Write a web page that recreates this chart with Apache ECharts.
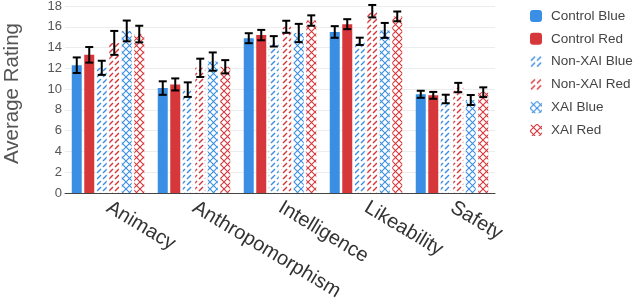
<!DOCTYPE html>
<html><head><meta charset="utf-8">
<script src="https://cdn.jsdelivr.net/npm/echarts@6/dist/echarts.min.js"></script>
<style>html,body{margin:0;padding:0;background:#fff}#c{width:640px;height:301px}</style>
</head><body><div id="c"></div>
<script>
var categories = ['Animacy','Anthropomorphism','Intelligence','Likeability','Safety'];
var seriesNames = ['Control Blue','Control Red','Non-XAI Blue','Non-XAI Red','XAI Blue','XAI Red'];
var controlBlue = [12.3, 10.1, 14.9, 15.5, 9.5];
var controlRed  = [13.3, 10.45, 15.2, 16.25, 9.4];
var nonXaiBlue  = [12.05, 9.95, 14.6, 14.6, 9.05];
var nonXaiRed   = [14.45, 12.05, 16.0, 17.5, 10.15];
var xaiBlue     = [15.6, 12.65, 15.4, 15.65, 8.95];
var xaiRed      = [15.3, 12.15, 16.6, 17.0, 9.7];
var errControlBlue = [0.75, 0.65, 0.48, 0.56, 0.34];
var errControlRed  = [0.75, 0.58, 0.5, 0.48, 0.33];
var errNonXaiBlue  = [0.68, 0.7, 0.5, 0.35, 0.41];
var errNonXaiRed   = [1.15, 0.88, 0.58, 0.6, 0.45];
var errXaiBlue     = [1.0, 0.88, 0.88, 0.72, 0.48];
var errXaiRed      = [0.8, 0.64, 0.5, 0.47, 0.47];

var values = [controlBlue, controlRed, nonXaiBlue, nonXaiRed, xaiBlue, xaiRed];
var errors = [errControlBlue, errControlRed, errNonXaiBlue, errNonXaiRed, errXaiBlue, errXaiRed];

var BLUE = '#3a8ee3', RED = '#d6373b';
var FONT = 'Liberation Sans, Arial, sans-serif';

function stripe(color){
  var c = document.createElement('canvas'); c.width = 6; c.height = 6;
  var g = c.getContext('2d');
  g.fillStyle = '#fff'; g.fillRect(0,0,6,6);
  g.strokeStyle = color; g.lineWidth = 1.4;
  g.beginPath(); g.moveTo(1,5); g.lineTo(5,1); g.stroke();
  return {image: c, repeat: 'repeat'};
}
function cross(color){
  var c = document.createElement('canvas'); c.width = 7; c.height = 7;
  var g = c.getContext('2d');
  g.fillStyle = '#fff'; g.fillRect(0,0,7,7);
  g.strokeStyle = color; g.lineWidth = 1.1;
  g.beginPath(); g.moveTo(0,0); g.lineTo(7,7); g.moveTo(7,0); g.lineTo(0,7); g.stroke();
  return {image: c, repeat: 'repeat'};
}
var fills = [BLUE, RED, stripe(BLUE), stripe(RED), cross(BLUE), cross(RED)];

var BW = 10, GAP = 2.5;
var series = [];
values.forEach(function(v, i){
  series.push({
    name: seriesNames[i], type: 'bar', data: v, barWidth: BW, barGap: '25%',
    itemStyle: {color: fills[i], borderRadius: 0}, z: 2
  });
});
values.forEach(function(v, i){
  var data = v.map(function(val, k){ return [k, val - errors[i][k], val + errors[i][k]]; });
  series.push({
    type: 'custom', name: seriesNames[i] + ' err', data: data, z: 5,
    renderItem: function(params, api){
      var k = api.value(0);
      var lo = api.coord([k, api.value(1)]);
      var hi = api.coord([k, api.value(2)]);
      var x = lo[0] + (i - 2.5) * (BW + GAP);
      var cap = 4;
      var st = {stroke: '#000', lineWidth: 2};
      return {type: 'group', children: [
        {type: 'line', shape: {x1: x, y1: lo[1], x2: x, y2: hi[1]}, style: st},
        {type: 'line', shape: {x1: x - cap, y1: lo[1], x2: x + cap, y2: lo[1]}, style: st},
        {type: 'line', shape: {x1: x - cap, y1: hi[1], x2: x + cap, y2: hi[1]}, style: st}
      ]};
    }
  });
});

var chart = echarts.init(document.getElementById('c'));
chart.setOption({
  animation: false,
  backgroundColor: '#fff',
  grid: {left: 65, right: 145, top: 6, bottom: 108, containLabel: false, outerBoundsMode: 'none'},
  legend: {
    data: seriesNames, orient: 'vertical', left: 525, top: 4,
    itemWidth: 12, itemHeight: 12, itemGap: 8.8,
    textStyle: {fontSize: 13.5, color: '#444', fontFamily: FONT, padding: [0, 0, 0, 4]}
  },
  xAxis: {
    type: 'category', data: categories,
    axisLine: {lineStyle: {color: '#444', width: 1}},
    axisTick: {show: false},
    axisLabel: {rotate: -31, fontSize: 20, color: '#333', fontFamily: FONT, margin: 13, interval: 0}
  },
  yAxis: {
    type: 'value', min: 0, max: 18, interval: 2,
    name: 'Average Rating', nameLocation: 'middle', nameGap: 42,
    nameTextStyle: {fontSize: 20.5, color: '#555', fontFamily: FONT, padding: [0, 0, 0, 12]},
    axisLine: {show: false}, axisTick: {show: false},
    axisLabel: {fontSize: 13, color: '#555', fontFamily: FONT, margin: 3},
    splitLine: {lineStyle: {color: '#ececec'}}
  },
  series: series
});
</script></body></html>
